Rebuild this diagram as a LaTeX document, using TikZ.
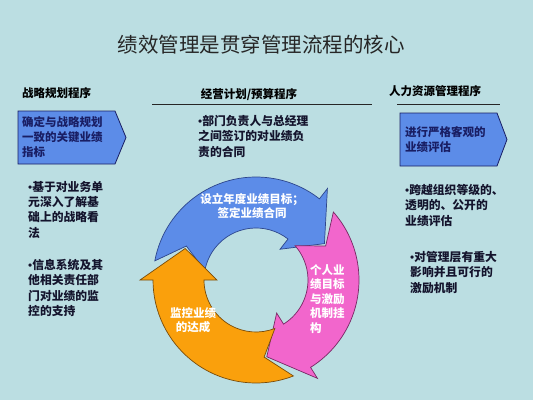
\documentclass[tikz,border=0pt]{standalone}
\usepackage{fontspec}
\setmainfont{Noto Sans CJK SC}
\newfontfamily\latinf{Liberation Sans}
\newcommand\bul{{\latinf\mdseries •}}
\begin{document}
\begin{tikzpicture}[x=1pt,y=1pt,
  hdr/.style={font=\bfseries\fontsize{11.5}{14}\selectfont, text=black, inner sep=0},
  body/.style={font=\bfseries\fontsize{11.8}{15.3}\selectfont, text=txt, inner sep=0, align=left, anchor=north west},
  boxtxt/.style={font=\bfseries\fontsize{11.5}{15}\selectfont, text=navy, inner sep=0, align=left, anchor=north west},
  pbox/.style={fill=boxblue, draw=navy, line width=0.8pt},
  cyc/.style={font=\bfseries\fontsize{11.5}{14.5}\selectfont, text=white, inner sep=0},
  rule/.style={draw=black!85, line width=0.9pt}
]
\definecolor{bgc}{RGB}{187,222,226}
\definecolor{txt}{RGB}{20,20,45}
\definecolor{navy}{RGB}{25,30,100}
\definecolor{boxblue}{RGB}{92,140,232}
\definecolor{cblue}{RGB}{92,140,232}
\definecolor{cblueD}{RGB}{45,70,140}
\definecolor{cpink}{RGB}{242,102,204}
\definecolor{cpinkD}{RGB}{120,40,100}
\definecolor{corange}{RGB}{250,160,12}
\definecolor{corangeD}{RGB}{120,75,10}
\fill[bgc] (0,0) rectangle (533,400);
\useasboundingbox (0,0) rectangle (533,400);

% title
\node[font=\fontsize{20.5}{24}\selectfont, text=black!85, inner sep=0] (title) at (261,355) {绩效管理是贯穿管理流程的核心};

% headers
\node[hdr, anchor=west] (h1) at (22,307) {战略规划程序};
\node[hdr] (h2) at (249,305) {经营计划/预算程序};
\node[hdr, anchor=west] (h3) at (389,309) {人力资源管理程序};
\coordinate (l1a) at (152,296); \coordinate (l1b) at (372,296);
\coordinate (l2a) at (397,296); \coordinate (l2b) at (500,296);
\draw[rule] (l1a) -- (l1b);
\draw[rule] (l2a) -- (l2b);

% left pentagon box
\draw[pbox] (18,289) -- (115,289) -- (126,262.5) -- (115,236) -- (18,236) -- cycle;
\node[boxtxt] (lbox) at (22,283.5) {确定与战略规划\\一致的关键业绩\\指标};

% right pentagon box
\draw[pbox] (400,287) -- (497,287) -- (507,260.5) -- (497,234) -- (400,234) -- cycle;
\node[boxtxt] (rbox) at (405,274) {进行严格客观的\\业绩评估};

% bullets
\node[body] (lb1) at (28,219) {\bul 基于对业务单\\元深入了解基\\础上的战略看\\法};
\node[body] (lb2) at (28,141) {\bul 信息系统及其\\他相关责任部\\门对业绩的监\\控的支持};
\node[body] (mb1) at (198,285) {\bul 部门负责人与总经理\\之间签订的对业绩负\\责的合同};
\node[body] (rb1) at (405,216) {\bul 跨越组织等级的、\\透明的、公开的\\业绩评估};
\node[body] (rb2) at (410,149) {\bul 对管理层有重大\\影响并且可行的\\激励机制};

% cycle
\begin{scope}[shift={(256,120)}]
  % blue
  \draw[fill=cblue, draw=cblueD, line width=0.7pt]
    (169.3:103) arc[start angle=169.3, end angle=52, radius=103]
    -- (52:116) -- (28:77.5) -- (52:39) -- (52:52)
    arc[start angle=52, end angle=169.3, radius=52] -- (154:77.5) -- cycle;
  % pink
  \draw[fill=cpink, draw=cpinkD, line width=0.7pt]
    (41.3:103) arc[start angle=41.3, end angle=-58, radius=103]
    -- (-58:116) -- (-82:77.5) -- (-58:39) -- (-58:52)
    arc[start angle=-58, end angle=41.3, radius=52] -- (26:77.5) -- cycle;
  % orange
  \draw[fill=corange, draw=corangeD, line width=0.7pt]
    (-68.7:103) arc[start angle=-68.7, end angle=-180, radius=103]
    -- (-180:116) -- (-204:77.5) -- (-180:39) -- (-180:52)
    arc[start angle=-180, end angle=-68.7, radius=52] -- (-84:77.5) -- cycle;
\end{scope}

\node[cyc, align=center] (ct1) at (252,194) {设立年度业绩目标；\\签定业绩合同};
\node[cyc, align=left, anchor=north west] (ct2) at (310,136) {个人业\\绩目标\\与激励\\机制挂\\构};
\node[cyc, align=center] (ct3) at (193,80) {监控业绩\\的达成};
\end{tikzpicture}
\end{document}
